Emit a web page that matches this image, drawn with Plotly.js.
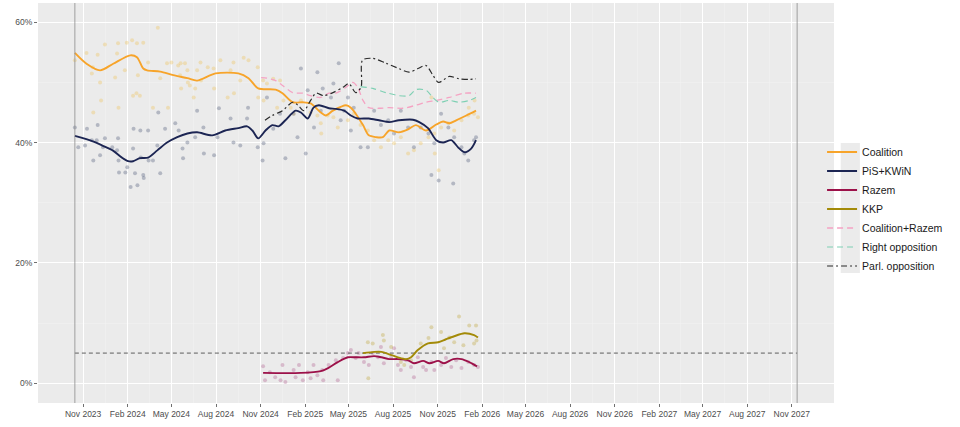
<!DOCTYPE html>
<html>
<head>
<meta charset="utf-8">
<script src="https://cdn.plot.ly/plotly-3.0.1.min.js"></script>
<style>
  html, body { margin: 0; padding: 0; background: #fff; }
  #chart { width: 960px; height: 427px; }
</style>
</head>
<body>
<div id="chart"></div>
<script>
// election dates (left and right vertical lines) and the 5% threshold
var electionDates = ['2023-10-15', '2027-11-12'];
var threshold = [5, 5];

// x axis ticks, every 3 months
var tickDates = ['2023-11-01','2024-02-01','2024-05-01','2024-08-01','2024-11-01','2025-02-01',
  '2025-05-01','2025-08-01','2025-11-01','2026-02-01','2026-05-01','2026-08-01','2026-11-01',
  '2027-02-01','2027-05-01','2027-08-01','2027-11-01'];
var yTicks = [0, 20, 40, 60];
var yTickText = ['0%', '20%', '40%', '60%'];

// ---- smoothed trend lines ----
var coalitionDates = ['2023-10-15','2023-11-08','2023-12-06','2024-01-02','2024-02-06','2024-02-20','2024-03-04',
  '2024-03-12','2024-04-08','2024-05-05','2024-06-03','2024-06-23','2024-07-31','2024-09-16','2024-10-07',
  '2024-10-27','2024-12-02','2024-12-16','2025-01-06','2025-01-27','2025-02-12','2025-03-05','2025-03-15',
  '2025-03-30','2025-04-26','2025-05-06','2025-05-16','2025-05-31','2025-06-12','2025-06-27','2025-07-11',
  '2025-07-24','2025-08-13','2025-09-01','2025-09-17','2025-10-08','2025-10-29','2025-11-12','2025-11-25',
  '2025-12-09','2025-12-30','2026-01-19'];
var coalitionTrend = [54.9,53.1,52.0,53.1,54.5,54.2,52.3,52.0,51.8,51.2,50.7,50.3,51.5,51.5,50.7,
  49.0,48.8,48.2,46.7,46.7,46.5,45.0,44.5,45.3,46.2,45.8,44.8,42.9,41.2,40.9,40.9,42.0,41.7,42.2,
  42.9,42.0,43.0,43.5,43.2,43.7,44.5,45.3];

var pisDates = ['2023-10-15','2023-11-21','2023-12-11','2024-01-01','2024-01-20','2024-02-02','2024-02-12',
  '2024-02-26','2024-03-14','2024-04-02','2024-04-22','2024-05-13','2024-06-03','2024-06-23','2024-07-24',
  '2024-08-20','2024-09-16','2024-10-04','2024-10-15','2024-10-27','2024-11-11','2024-11-25','2024-12-08',
  '2024-12-22','2025-01-12','2025-01-23','2025-02-06','2025-02-18','2025-03-01','2025-03-22','2025-04-05',
  '2025-04-22','2025-05-06','2025-05-20','2025-06-12','2025-07-03','2025-07-24','2025-08-13','2025-09-11',
  '2025-09-24','2025-10-12','2025-10-29','2025-11-12','2025-11-29','2025-12-13','2025-12-26','2026-01-09',
  '2026-01-19'];
var pisTrend = [41.1,40.2,39.5,38.7,37.5,36.9,36.9,37.4,37.5,38.7,40.0,40.9,41.5,41.7,41.2,42.0,
  42.4,42.7,42.0,40.7,42.0,42.9,42.7,43.7,45.3,45.0,44.0,45.8,46.2,45.7,45.6,45.3,44.5,44.0,44.0,
  43.7,43.4,43.7,43.8,43.4,42.4,40.4,40.0,40.4,39.2,38.4,39.0,40.4];

var razemDates = ['2024-11-06','2025-01-23','2025-03-05','2025-03-20','2025-04-09','2025-04-30','2025-05-16',
  '2025-06-02','2025-06-23','2025-07-08','2025-07-24','2025-08-11','2025-09-01','2025-09-13','2025-10-02',
  '2025-10-15','2025-11-02','2025-11-14','2025-12-03','2025-12-20','2026-01-05','2026-01-21'];
var razemTrend = [1.7,1.7,2.0,2.5,3.5,4.3,4.3,4.3,4.5,4.3,4.0,4.0,3.8,3.3,3.7,3.3,3.7,3.3,4.0,4.0,3.5,2.8];

var kkpDates = ['2025-05-31','2025-06-23','2025-07-08','2025-07-24','2025-08-11','2025-08-28','2025-09-07',
  '2025-09-21','2025-10-12','2025-11-02','2025-11-18','2025-12-05','2025-12-26','2026-01-15','2026-01-23'];
var kkpTrend = [5.0,5.2,5.2,4.8,4.3,4.0,4.3,5.5,6.6,6.8,7.3,7.8,8.3,8.0,7.6];

var coalRazemDates = ['2024-11-02','2024-11-14','2024-12-02','2024-12-16','2025-01-06','2025-01-27','2025-02-12',
  '2025-03-05','2025-03-22','2025-04-05','2025-04-26','2025-05-10','2025-05-20','2025-05-31','2025-06-12',
  '2025-07-03','2025-07-24','2025-08-21','2025-09-17','2025-10-08','2025-10-29','2025-11-25','2025-12-24',
  '2026-01-19'];
var coalRazemTrend = [50.8,50.7,50.3,49.5,48.3,48.2,47.8,47.5,48.2,48.2,49.2,50.0,49.2,47.0,45.8,45.7,
  45.8,45.7,46.2,46.7,47.0,47.5,48.2,48.2];

var rightOppDates = ['2025-05-26','2025-06-20','2025-07-17','2025-08-13','2025-09-03','2025-09-17','2025-10-08',
  '2025-10-22','2025-11-03','2025-11-25','2025-12-15','2026-01-05','2026-01-19'];
var rightOppTrend = [49.3,49.0,48.3,47.8,47.8,48.8,48.7,47.5,46.7,47.0,46.7,47.0,47.5];

var parlOppDates = ['2024-11-10','2024-11-25','2024-12-16','2025-01-06','2025-01-17','2025-01-29','2025-02-12',
  '2025-02-23','2025-03-11','2025-03-30','2025-04-20','2025-05-02','2025-05-16','2025-05-27','2025-05-30',
  '2025-06-20','2025-07-17','2025-08-13','2025-09-03','2025-09-21','2025-10-08','2025-10-22','2025-11-03',
  '2025-11-25','2025-12-15','2026-01-05','2026-01-19'];
var parlOppTrend = [43.7,44.5,45.3,46.7,46.2,45.3,47.0,48.2,47.8,48.3,49.2,49.8,48.3,49.2,53.7,54.0,
  53.2,52.3,51.7,52.3,52.8,51.2,50.0,51.0,50.6,50.5,50.6];

// ---- individual polls ----
var coalitionPollDates = ['2023-10-15','2023-11-08','2023-12-01','2023-12-16','2024-01-12','2024-01-30','2024-02-10',
  '2024-02-20','2024-03-04','2024-04-03','2024-01-10','2024-01-26','2024-02-22','2024-03-14','2024-04-08',
  '2024-04-22','2024-05-15','2024-05-29','2024-05-19','2024-06-08','2024-06-19','2024-06-23','2023-11-19',
  '2023-12-06','2023-11-21','2024-02-19','2024-02-26','2024-03-24','2024-04-24','2024-01-13','2023-12-08',
  '2023-11-22','2024-02-12','2024-01-06','2024-05-01','2024-05-20','2024-06-03','2024-06-30','2024-07-15',
  '2024-07-27','2024-08-10','2024-09-06','2024-09-27','2024-10-07','2024-08-31','2024-09-20','2024-10-26',
  '2024-07-01','2024-07-28','2024-06-04','2024-08-25','2024-09-07','2024-05-21','2024-06-16','2024-11-06',
  '2024-11-14','2024-11-27','2024-12-11','2024-10-27','2024-11-07','2024-12-05','2024-12-18','2025-01-02',
  '2025-01-08','2025-01-23','2025-02-12','2025-02-26','2025-03-05','2025-03-19','2025-03-31','2025-03-06',
  '2025-04-09','2025-04-30','2025-05-12','2025-05-26','2025-06-10','2025-06-23','2025-07-07','2025-07-22',
  '2025-08-03','2025-08-17','2025-09-01','2025-09-13','2025-09-27','2025-10-13','2025-10-25','2025-11-08',
  '2025-11-23','2025-12-05','2025-12-20','2026-01-03','2026-01-15','2026-01-23','2025-10-26','2025-11-03',
  '2026-01-16','2026-01-04','2025-10-19'];
var coalitionPolls = [53.7,54.9,54.6,56.3,56.5,56.6,57.0,56.5,56.6,59.1,54.8,52.0,51.2,53.3,50.7,53.2,
  52.8,53.2,51.2,49.5,49.0,52.0,51.5,50.0,52.5,48.2,47.8,45.8,45.8,45.8,47.0,45.0,47.8,50.8,53.3,53.2,
  52.0,53.3,52.5,52.3,53.7,53.3,54.1,53.7,52.0,50.3,52.5,50.3,49.0,50.0,47.5,48.2,49.0,47.5,50.3,49.8,
  50.6,50.3,47.5,47.0,45.8,47.0,45.8,44.8,47.0,45.0,44.5,43.2,44.5,44.2,41.5,42.5,43.7,44.8,42.9,42.0,
  40.4,39.2,40.4,39.9,40.9,38.2,38.7,39.9,40.9,41.5,42.5,43.2,42.0,43.7,44.5,44.8,44.2,38.2,35.4,47.0,
  45.8,47.5];

var pisPollDates = ['2023-10-15','2023-11-09','2023-10-22','2023-11-05','2023-11-19','2023-12-01','2023-11-29',
  '2023-12-16','2023-12-06','2023-11-22','2023-12-12','2023-12-31','2024-01-12','2024-01-10','2024-01-13',
  '2024-01-14','2024-01-27','2024-01-31','2024-02-12','2024-02-16','2024-02-07','2024-02-21','2024-03-04',
  '2024-03-05','2024-02-13','2024-02-27','2024-03-14','2024-03-15','2024-03-24','2024-04-08','2024-04-02',
  '2024-04-18','2024-05-09','2024-05-16','2024-05-24','2024-05-25','2024-06-03','2024-06-23','2024-06-19',
  '2024-04-04','2024-02-28','2024-07-06','2024-08-04','2024-07-07','2024-07-28','2024-08-07','2024-08-31',
  '2024-09-06','2024-09-20','2024-10-04','2024-10-06','2024-10-26','2024-11-07','2024-11-05','2024-11-14',
  '2024-11-27','2024-12-11','2024-12-22','2025-01-08','2025-01-16','2025-01-23','2025-02-02','2025-02-06',
  '2025-02-26','2025-02-19','2025-03-05','2025-03-09','2025-03-26','2025-03-31','2025-04-15','2025-04-11',
  '2025-04-22','2025-04-30','2025-05-06','2025-05-12','2025-05-26','2025-06-10','2025-06-23','2025-07-07',
  '2025-07-22','2025-08-03','2025-08-17','2025-09-01','2025-09-13','2025-09-27','2025-10-13','2025-10-25',
  '2025-10-19','2025-11-03','2025-11-23','2025-12-05','2025-12-03','2025-12-20','2025-12-26','2026-01-03',
  '2026-01-15','2026-01-19','2025-11-08'];
var pisPolls = [42.5,42.3,39.2,39.5,40.4,42.9,40.4,40.7,37.9,37.0,39.2,39.2,40.7,38.7,37.0,35.0,35.0,
  35.9,39.0,34.9,32.6,32.9,34.6,34.1,42.3,42.0,42.0,37.0,37.0,34.9,39.5,42.3,43.2,42.0,39.0,37.4,40.0,
  45.3,40.9,45.0,37.5,42.5,40.9,38.2,37.9,45.7,44.0,40.0,39.5,44.0,45.8,39.2,39.9,37.0,47.5,42.3,44.8,
  37.4,44.8,40.9,52.3,38.2,48.7,51.7,42.5,45.3,49.0,47.5,49.8,43.7,53.2,45.3,47.5,42.0,45.8,39.2,39.2,
  45.3,42.9,43.7,41.5,45.3,42.5,39.2,42.5,41.5,39.9,34.6,33.7,42.5,40.9,33.2,39.2,38.2,37.0,40.4,40.9,
  44.8];

var razemPollDates = ['2024-11-06','2024-11-10','2024-11-20','2024-12-01','2024-12-16','2024-12-12','2024-12-22',
  '2025-01-08','2025-01-12','2025-01-19','2025-01-27','2025-02-06','2025-02-12','2025-02-18','2025-02-26',
  '2025-03-08','2025-03-10','2025-03-21','2025-04-05','2025-04-09','2025-04-20','2025-04-30','2025-05-06',
  '2025-05-16','2025-05-22','2025-06-02','2025-06-12','2025-06-20','2025-07-01','2025-07-07','2025-07-13',
  '2025-07-28','2025-08-03','2025-08-11','2025-08-17','2025-08-28','2025-09-07','2025-09-13','2025-09-21',
  '2025-10-02','2025-10-08','2025-10-19','2025-10-25','2025-11-08','2025-11-18','2025-11-29','2025-12-09',
  '2025-12-20','2026-01-03','2026-01-15','2026-01-23'];
var razemPolls = [2.8,0.5,1.8,1.0,3.0,0.5,0.2,2.2,1.0,3.0,0.5,1.8,0.8,3.0,1.3,2.2,0.5,3.0,3.8,0.5,4.2,
  5.0,5.5,4.2,5.0,3.5,3.0,5.0,4.3,6.0,3.3,4.2,5.8,3.0,2.2,3.8,2.7,1.0,4.3,2.7,2.2,3.5,2.2,3.0,4.2,2.7,
  3.8,2.5,3.5,3.0,2.7];

var kkpPollDates = ['2025-06-10','2025-06-20','2025-07-11','2025-07-13','2025-06-11','2025-07-28','2025-08-17',
  '2025-08-24','2025-09-07','2025-09-27','2025-10-19','2025-11-08','2025-11-14','2025-12-05','2025-12-15',
  '2025-12-24','2026-01-05','2026-01-19','2026-01-15','2026-01-20','2025-11-25','2025-10-13'];
var kkpPolls = [6.8,6.6,8.0,7.1,0.8,6.0,3.5,3.0,3.8,6.6,9.3,8.5,5.8,6.8,11.1,6.3,9.6,9.6,6.6,7.1,7.6,7.5];

function pollTrace(x, y, color) {
    return {
        x: x, y: y,
        mode: 'markers',
        type: 'scatter',
        showlegend: false,
        hoverinfo: 'skip',
        marker: { color: color, size: 4, opacity: 0.38, line: { width: 0 } }
    };
}

function trendTrace(x, y, name, color, dash, width) {
    return {
        x: x, y: y,
        name: name,
        mode: 'lines',
        type: 'scatter',
        line: { color: color, width: width, dash: dash, shape: 'spline', smoothing: 0.8 }
    };
}

// minor gridlines halfway between 3-month ticks
var minorDates = [];
for (var i = 0; i < tickDates.length - 1; i++) {
    var a = new Date(tickDates[i]).getTime();
    var b = new Date(tickDates[i + 1]).getTime();
    minorDates.push(new Date((a + b) / 2).toISOString().slice(0, 10));
}

var plotdata = [
    pollTrace(coalitionPollDates, coalitionPolls, '#F0C560'),
    pollTrace(pisPollDates, pisPolls, '#5A6380'),
    pollTrace(razemPollDates, razemPolls, '#B66A95'),
    pollTrace(kkpPollDates, kkpPolls, '#C2AA48'),
    {
        x: electionDates, y: threshold,
        mode: 'lines', type: 'scatter', showlegend: false, hoverinfo: 'skip',
        line: { color: '#3A3A3A', width: 0.8, dash: '4px,3px' }
    },
    trendTrace(coalitionDates, coalitionTrend, 'Coalition', '#F7A42A', 'solid', 1.9),
    trendTrace(pisDates, pisTrend, 'PiS+KWiN', '#1C2553', 'solid', 1.9),
    trendTrace(razemDates, razemTrend, 'Razem', '#9C1149', 'solid', 1.9),
    trendTrace(kkpDates, kkpTrend, 'KKP', '#A38A08', 'solid', 1.9),
    trendTrace(coalRazemDates, coalRazemTrend, 'Coalition+Razem', '#F5A3C3', '6px,4px', 1.3),
    trendTrace(rightOppDates, rightOppTrend, 'Right opposition', '#7ED0B3', '6px,4px', 1.1),
    trendTrace(parlOppDates, parlOppTrend, 'Parl. opposition', '#2B2B2B', '6px,3px,2px,3px', 1.2)
];

var layout = {
    width: 960,
    height: 427,
    margin: { l: 38, r: 126, t: 3, b: 24 },
    paper_bgcolor: '#FFFFFF',
    plot_bgcolor: '#EBEBEB',
    font: { family: 'Liberation Sans, Arial, sans-serif', color: '#4D4D4D' },
    showlegend: true,
    xaxis: {
        type: 'date',
        range: ['2023-07-31', '2028-01-27'],
        tickmode: 'array',
        tickvals: tickDates,
        tickformat: '%b %Y',
        tickfont: { size: 8.5, color: '#4D4D4D' },
        ticks: 'outside', ticklen: 3, tickcolor: '#333333', tickwidth: 0.7,
        showgrid: true, gridcolor: '#FFFFFF', gridwidth: 1,
        minor: { tickmode: 'array', tickvals: minorDates, showgrid: true, gridcolor: '#F4F4F4', gridwidth: 0.5 },
        zeroline: false, showline: false
    },
    yaxis: {
        range: [-3.3, 63.2],
        tickmode: 'array',
        tickvals: yTicks,
        ticktext: yTickText,
        tickfont: { size: 8.5, color: '#4D4D4D' },
        ticks: 'outside', ticklen: 3, tickcolor: '#333333', tickwidth: 0.7,
        showgrid: true, gridcolor: '#FFFFFF', gridwidth: 1,
        minor: { tickmode: 'array', tickvals: [10, 30, 50], showgrid: true, gridcolor: '#F4F4F4', gridwidth: 0.5 },
        zeroline: false, showline: false
    },
    legend: {
        x: 0.985, xanchor: 'left',
        y: 0.485, yanchor: 'middle',
        bgcolor: 'rgba(0,0,0,0)',
        font: { size: 10.5, color: '#1A1A1A' },
        itemwidth: 30,
        tracegroupgap: 0
    },
    shapes: electionDates.map(function (d) {
        return {
            type: 'line', xref: 'x', yref: 'paper',
            x0: d, x1: d, y0: 0, y1: 1,
            line: { color: '#8C8C8C', width: 0.8 }
        };
    }).concat([{
        // grey background behind the legend keys
        type: 'rect', xref: 'paper', yref: 'paper', layer: 'below',
        x0: 1.0085, x1: 1.0325, y0: 0.325, y1: 0.65,
        fillcolor: '#EBEBEB', line: { width: 0 }
    }])
};

var config = { responsive: false, displayModeBar: false, staticPlot: true };
Plotly.newPlot(document.getElementById('chart'), plotdata, layout, config);
</script>
</body>
</html>
